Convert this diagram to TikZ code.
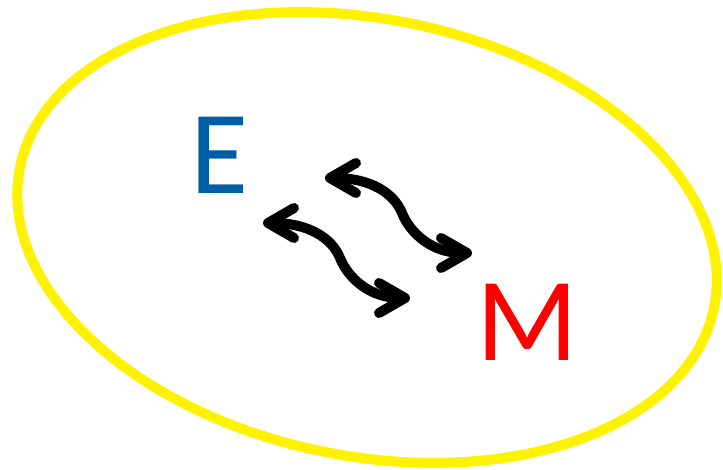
\documentclass[tikz,border=0pt]{standalone}
\usepackage{fontspec}
\setmainfont{Carlito}
\usetikzlibrary{arrows.meta}
\definecolor{eblue}{RGB}{0,94,166}
\begin{document}
\begin{tikzpicture}[x=1pt,y=1pt,
  wave/.style={line width=10pt, line cap=round, line join=round,
    {Straight Barb[length=26pt,width=30pt,round]}-{Straight Barb[length=26pt,width=30pt,round]}},
  letter/.style={font=\fontsize{119}{119}\selectfont, inner sep=0pt}]
\useasboundingbox (0,0) rectangle (723,469);
\draw[yellow, line width=10pt, rotate around={-11.4:(367,231.5)}] (367,231.5) ellipse [x radius=354pt, y radius=218.5pt];
\node[letter, text=eblue] (e) at (220,314) {E};
\node[letter, text=red] (m) at (527,147) {M};
\coordinate (a1) at (325,291);
\coordinate (m1) at (402,256);
\coordinate (b1) at (472,216);
\coordinate (a2) at (263,246);
\coordinate (m2) at (340,211);
\coordinate (b2) at (410,171);
\draw[wave] (a1) .. controls +(45,0) and +(-8,20) .. (m1) .. controls +(8,-20) and +(-40,0) .. (b1);
\draw[wave] (a2) .. controls +(45,0) and +(-8,20) .. (m2) .. controls +(8,-20) and +(-40,0) .. (b2);
\end{tikzpicture}
\end{document}
